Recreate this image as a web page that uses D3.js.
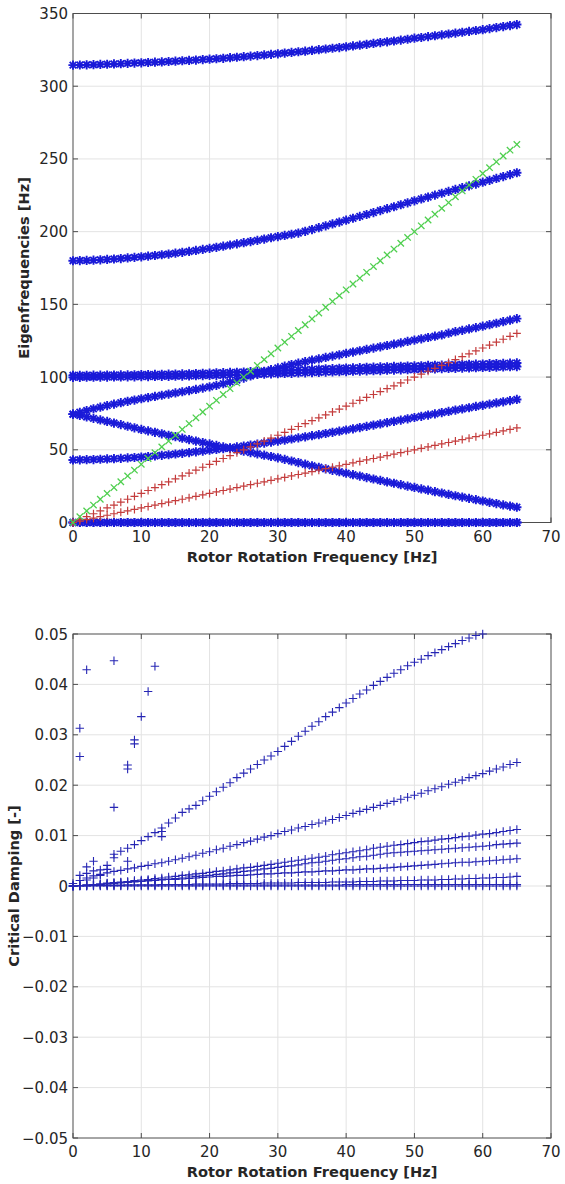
<!DOCTYPE html>
<html>
<head>
<meta charset="utf-8">
<script src="https://cdn.jsdelivr.net/npm/d3@7"></script>
<style>
  body { margin: 0; background: #fff; }
  svg { display: block; }
  .tick-label { font-family: 'DejaVu Sans', sans-serif; font-size: 15px; fill: #262626; }
  .axis-title { font-family: 'DejaVu Sans', sans-serif; font-size: 14.6px; font-weight: bold; fill: #262626; }
</style>
</head>
<body>
<svg id="chart" width="565" height="1184"></svg>
<script>
// rotor speed samples, 1 Hz steps
const rotorHz = d3.range(0, 66);
const hzTicks = [0, 10, 20, 30, 40, 50, 60, 70];
const freqTicks = [0, 50, 100, 150, 200, 250, 300, 350];
const dampTicks = [-0.05, -0.04, -0.03, -0.02, -0.01, 0, 0.01, 0.02, 0.03, 0.04, 0.05];

// eigenfrequencies [Hz]
const eigenRigid = [
  0, 0, 0, 0, 0, 0, 0, 0, 0, 0, 0, 0, 0, 0, 0, 0, 0, 0, 0, 0, 0, 0,
  0, 0, 0, 0, 0, 0, 0, 0, 0, 0, 0, 0, 0, 0, 0, 0, 0, 0, 0, 0, 0, 0,
  0, 0, 0, 0, 0, 0, 0, 0, 0, 0, 0, 0, 0, 0, 0, 0, 0, 0, 0, 0, 0, 0,
];
const eigenB = [
  43.0, 43.1, 43.2, 43.3, 43.5, 43.7, 43.9, 44.1, 44.4, 44.7,
  45.0, 45.4, 45.8, 46.2, 46.6, 47.1, 47.6, 48.1, 48.6, 49.1,
  49.7, 50.2, 50.8, 51.4, 52.0, 52.6, 53.3, 53.9, 54.6, 55.3,
  56.0, 56.7, 57.4, 58.2, 58.9, 59.7, 60.4, 61.2, 62.0, 62.8,
  63.6, 64.4, 65.3, 66.1, 67.0, 67.8, 68.7, 69.6, 70.4, 71.3,
  72.2, 73.0, 73.9, 74.7, 75.6, 76.4, 77.3, 78.1, 78.9, 79.8,
  80.6, 81.4, 82.2, 83.0, 83.8, 84.6,
];
const eigenC = [
  74.5, 73.6, 72.6, 71.6, 70.5, 69.5, 68.4, 67.3, 66.2, 65.1,
  64.0, 63.0, 62.0, 61.0, 60.0, 59.0, 58.0, 57.0, 56.0, 55.0,
  54.0, 53.0, 52.0, 51.0, 50.0, 49.0, 48.1, 47.2, 46.3, 45.4,
  44.5, 43.4, 42.3, 41.2, 40.1, 39.0, 38.0, 36.9, 35.9, 34.9,
  33.9, 32.9, 31.9, 30.9, 29.9, 28.9, 27.9, 27.0, 26.0, 25.0,
  24.1, 23.1, 22.2, 21.2, 20.3, 19.3, 18.4, 17.5, 16.6, 15.7,
  14.8, 13.9, 13.0, 12.1, 11.3, 10.5,
];
const eigenD = [
  74.5, 75.8, 77.0, 78.2, 79.3, 80.4, 81.4, 82.4, 83.3, 84.2,
  85.1, 85.9, 86.7, 87.5, 88.3, 89.1, 89.9, 90.7, 91.5, 92.4,
  93.3, 94.3, 95.4, 96.6, 97.9, 99.3, 100.8, 102.3, 103.8, 105.1,
  106.3, 107.5, 108.6, 109.6, 110.6, 111.6, 112.5, 113.5, 114.4, 115.3,
  116.3, 117.2, 118.1, 119.0, 119.9, 120.8, 121.7, 122.6, 123.5, 124.5,
  125.4, 126.3, 127.2, 128.1, 129.0, 130.2, 131.2, 132.1, 133.1, 134.0,
  135.0, 136.0, 137.0, 138.1, 139.1, 140.2,
];
const eigenE = [
  99.8, 99.8, 99.9, 99.9, 100.0, 100.0, 100.1, 100.1, 100.2, 100.2,
  100.3, 100.3, 100.4, 100.5, 100.5, 100.6, 100.7, 100.8, 100.9, 101.0,
  101.1, 101.2, 101.3, 101.4, 101.5, 101.6, 101.7, 101.9, 102.0, 102.2,
  102.3, 102.5, 102.6, 102.8, 102.9, 103.1, 103.2, 103.4, 103.5, 103.7,
  103.8, 104.0, 104.1, 104.3, 104.4, 104.5, 104.7, 104.8, 105.0, 105.1,
  105.2, 105.4, 105.5, 105.6, 105.8, 105.9, 106.0, 106.2, 106.3, 106.4,
  106.6, 106.7, 106.8, 107.0, 107.1, 107.2,
];
const eigenF = [
  101.2, 101.2, 101.2, 101.3, 101.3, 101.4, 101.4, 101.5, 101.5, 101.6,
  101.7, 101.7, 101.8, 101.9, 102.0, 102.1, 102.2, 102.3, 102.4, 102.6,
  102.7, 102.9, 103.0, 103.2, 103.3, 103.5, 103.7, 103.8, 104.0, 104.2,
  104.4, 104.6, 104.8, 104.9, 105.1, 105.3, 105.5, 105.7, 105.8, 106.0,
  106.2, 106.3, 106.5, 106.7, 106.8, 107.0, 107.1, 107.3, 107.4, 107.6,
  107.7, 107.8, 108.0, 108.1, 108.2, 108.4, 108.5, 108.6, 108.8, 108.9,
  109.0, 109.2, 109.3, 109.4, 109.6, 109.7,
];
const eigenA = [
  180.0, 180.1, 180.2, 180.4, 180.6, 180.9, 181.2, 181.5, 181.9, 182.3,
  182.7, 183.1, 183.6, 184.1, 184.6, 185.2, 185.8, 186.4, 187.1, 187.8,
  188.5, 189.2, 190.0, 190.8, 191.6, 192.4, 193.2, 194.0, 194.9, 195.8,
  196.6, 197.4, 198.2, 199.0, 200.2, 201.4, 202.7, 204.0, 205.3, 206.6,
  207.9, 209.2, 210.5, 211.8, 213.1, 214.5, 215.8, 217.1, 218.5, 219.8,
  221.2, 222.5, 223.8, 225.1, 226.4, 227.7, 229.0, 230.2, 231.5, 232.7,
  234.0, 235.3, 236.6, 237.9, 239.2, 240.5,
];
const eigenTop = [
  314.5, 314.6, 314.7, 314.8, 315.0, 315.1, 315.3, 315.5, 315.7, 315.9,
  316.1, 316.3, 316.5, 316.7, 317.0, 317.2, 317.5, 317.7, 318.0, 318.3,
  318.6, 318.9, 319.2, 319.6, 319.9, 320.3, 320.7, 321.1, 321.5, 321.9,
  322.3, 322.8, 323.2, 323.7, 324.1, 324.6, 325.1, 325.6, 326.1, 326.6,
  327.1, 327.7, 328.2, 328.8, 329.4, 330.0, 330.5, 331.1, 331.7, 332.3,
  333.0, 333.5, 334.1, 334.7, 335.3, 335.9, 336.5, 337.1, 337.7, 338.3,
  338.9, 339.6, 340.3, 341.0, 341.7, 342.4,
];

// excitation orders (1x, 2x, 4x rotor speed)
const order1 = [
  0, 1, 2, 3, 4, 5, 6, 7, 8, 9, 10, 11, 12, 13, 14, 15, 16, 17, 18, 19, 20, 21,
  22, 23, 24, 25, 26, 27, 28, 29, 30, 31, 32, 33, 34, 35, 36, 37, 38, 39, 40, 41, 42, 43,
  44, 45, 46, 47, 48, 49, 50, 51, 52, 53, 54, 55, 56, 57, 58, 59, 60, 61, 62, 63, 64, 65,
];
const order2 = [
  0, 2, 4, 6, 8, 10, 12, 14, 16, 18, 20, 22, 24, 26, 28, 30, 32, 34, 36, 38, 40, 42,
  44, 46, 48, 50, 52, 54, 56, 58, 60, 62, 64, 66, 68, 70, 72, 74, 76, 78, 80, 82, 84, 86,
  88, 90, 92, 94, 96, 98, 100, 102, 104, 106, 108, 110, 112, 114, 116, 118, 120, 122, 124, 126, 128, 130,
];
const order4 = [
  0, 4, 8, 12, 16, 20, 24, 28, 32, 36, 40, 44, 48, 52, 56, 60, 64, 68, 72, 76, 80, 84,
  88, 92, 96, 100, 104, 108, 112, 116, 120, 124, 128, 132, 136, 140, 144, 148, 152, 156, 160, 164, 168, 172,
  176, 180, 184, 188, 192, 196, 200, 204, 208, 212, 216, 220, 224, 228, 232, 236, 240, 244, 248, 252, 256, 260,
];

// critical damping [-]
const dampA = [
  0.0000, 0.0021, 0.0038, 0.0049, 0.0032, 0.0041, 0.0063, 0.0069, 0.0075, 0.0082,
  0.0090, 0.0098, 0.0106, 0.0115, 0.0125, 0.0135, 0.0146, 0.0153, 0.0160, 0.0169,
  0.0178, 0.0187, 0.0196, 0.0205, 0.0215, 0.0224, 0.0232, 0.0241, 0.0250, 0.0258,
  0.0267, 0.0277, 0.0287, 0.0297, 0.0307, 0.0317, 0.0326, 0.0336, 0.0345, 0.0354,
  0.0363, 0.0372, 0.0381, 0.0389, 0.0398, 0.0406, 0.0414, 0.0422, 0.0429, 0.0437,
  0.0444, 0.0450, 0.0457, 0.0463, 0.0469, 0.0475, 0.0481, 0.0487, 0.0492, 0.0497,
  0.0500, null, null, null, null, null,
];
const dampB = [
  0.0005, 0.0011, 0.0016, 0.0020, 0.0023, 0.0026, 0.0029, 0.0031, 0.0034, 0.0036,
  0.0039, 0.0041, 0.0044, 0.0046, 0.0049, 0.0052, 0.0055, 0.0058, 0.0061, 0.0065,
  0.0068, 0.0072, 0.0075, 0.0079, 0.0082, 0.0086, 0.0089, 0.0093, 0.0097, 0.0100,
  0.0104, 0.0108, 0.0111, 0.0115, 0.0118, 0.0122, 0.0125, 0.0129, 0.0132, 0.0136,
  0.0140, 0.0144, 0.0148, 0.0152, 0.0156, 0.0160, 0.0164, 0.0168, 0.0172, 0.0176,
  0.0180, 0.0184, 0.0189, 0.0193, 0.0197, 0.0202, 0.0206, 0.0210, 0.0215, 0.0219,
  0.0223, 0.0228, 0.0232, 0.0236, 0.0241, 0.0245,
];
const dampC = [
  0.0000, 0.0001, 0.0002, 0.0003, 0.0004, 0.0006, 0.0007, 0.0008, 0.0009, 0.0011,
  0.0012, 0.0013, 0.0015, 0.0016, 0.0018, 0.0019, 0.0021, 0.0022, 0.0024, 0.0025,
  0.0027, 0.0029, 0.0030, 0.0032, 0.0034, 0.0036, 0.0037, 0.0039, 0.0041, 0.0043,
  0.0045, 0.0047, 0.0049, 0.0051, 0.0053, 0.0055, 0.0057, 0.0059, 0.0062, 0.0064,
  0.0066, 0.0068, 0.0070, 0.0072, 0.0075, 0.0077, 0.0079, 0.0081, 0.0082, 0.0084,
  0.0086, 0.0088, 0.0089, 0.0091, 0.0093, 0.0094, 0.0096, 0.0098, 0.0099, 0.0101,
  0.0103, 0.0104, 0.0106, 0.0108, 0.0110, 0.0112,
];
const dampD = [
  0.0000, 0.0001, 0.0002, 0.0003, 0.0004, 0.0005, 0.0006, 0.0007, 0.0008, 0.0009,
  0.0010, 0.0011, 0.0012, 0.0013, 0.0014, 0.0015, 0.0016, 0.0018, 0.0019, 0.0020,
  0.0021, 0.0023, 0.0024, 0.0026, 0.0027, 0.0029, 0.0030, 0.0032, 0.0034, 0.0035,
  0.0037, 0.0039, 0.0040, 0.0042, 0.0044, 0.0046, 0.0047, 0.0049, 0.0051, 0.0053,
  0.0054, 0.0056, 0.0058, 0.0059, 0.0061, 0.0063, 0.0065, 0.0066, 0.0067, 0.0068,
  0.0069, 0.0070, 0.0071, 0.0072, 0.0073, 0.0074, 0.0075, 0.0076, 0.0077, 0.0078,
  0.0079, 0.0080, 0.0082, 0.0083, 0.0084, 0.0085,
];
const dampE = [
  0.0000, 0.0001, 0.0002, 0.0003, 0.0003, 0.0004, 0.0005, 0.0006, 0.0007, 0.0008,
  0.0009, 0.0010, 0.0011, 0.0012, 0.0013, 0.0013, 0.0014, 0.0015, 0.0016, 0.0017,
  0.0018, 0.0019, 0.0019, 0.0020, 0.0021, 0.0021, 0.0022, 0.0023, 0.0024, 0.0024,
  0.0025, 0.0026, 0.0026, 0.0027, 0.0028, 0.0028, 0.0029, 0.0030, 0.0030, 0.0031,
  0.0032, 0.0032, 0.0033, 0.0034, 0.0034, 0.0035, 0.0036, 0.0037, 0.0038, 0.0039,
  0.0040, 0.0041, 0.0042, 0.0043, 0.0044, 0.0045, 0.0046, 0.0047, 0.0047, 0.0048,
  0.0049, 0.0050, 0.0051, 0.0052, 0.0053, 0.0054,
];
const dampF = [
  0.0000, 0.0000, 0.0000, 0.0001, 0.0001, 0.0001, 0.0001, 0.0001, 0.0002, 0.0002,
  0.0002, 0.0002, 0.0002, 0.0003, 0.0003, 0.0003, 0.0003, 0.0003, 0.0004, 0.0004,
  0.0004, 0.0004, 0.0004, 0.0005, 0.0005, 0.0005, 0.0005, 0.0005, 0.0006, 0.0006,
  0.0006, 0.0006, 0.0006, 0.0007, 0.0007, 0.0007, 0.0007, 0.0007, 0.0008, 0.0008,
  0.0008, 0.0008, 0.0009, 0.0009, 0.0009, 0.0010, 0.0010, 0.0010, 0.0011, 0.0011,
  0.0011, 0.0012, 0.0012, 0.0012, 0.0013, 0.0013, 0.0014, 0.0014, 0.0015, 0.0015,
  0.0016, 0.0016, 0.0017, 0.0017, 0.0018, 0.0019,
];
const dampG = [
  0.0000, 0.0001, 0.0001, 0.0001, 0.0002, 0.0002, 0.0002, 0.0002, 0.0002, 0.0002,
  0.0002, 0.0002, 0.0002, 0.0002, 0.0002, 0.0002, 0.0002, 0.0002, 0.0002, 0.0002,
  0.0002, 0.0002, 0.0002, 0.0002, 0.0002, 0.0002, 0.0002, 0.0002, 0.0002, 0.0002,
  0.0002, 0.0002, 0.0002, 0.0002, 0.0002, 0.0002, 0.0002, 0.0002, 0.0002, 0.0002,
  0.0003, 0.0003, 0.0003, 0.0003, 0.0003, 0.0003, 0.0003, 0.0003, 0.0003, 0.0003,
  0.0003, 0.0003, 0.0003, 0.0003, 0.0003, 0.0003, 0.0003, 0.0003, 0.0003, 0.0003,
  0.0003, 0.0003, 0.0003, 0.0003, 0.0003, 0.0003,
];
const dampH = eigenRigid;
// scattered low-speed points
const strayHz = [1, 1, 2, 6, 6, 8, 8, 9, 9, 10, 11, 12, 2, 2, 3, 3, 4, 5, 6, 8, 13, 13];
const strayDamp = [
  0.0313, 0.0257, 0.0429, 0.0447, 0.0156, 0.0240, 0.0232, 0.0290, 0.0282, 0.0336, 0.0386, 0.0436,
  0.0025, 0.0012, 0.0030, 0.0016, 0.0021, 0.0033, 0.0056, 0.0049, 0.0108, 0.0098,
];

const markerPaths = {
  plus: r => `M${-r},0H${r}M0,${-r}V${r}`,
  cross: r => `M${-r},${-r}L${r},${r}M${-r},${r}L${r},${-r}`,
  star: r => {
    const d = r * 0.72;
    return `M${-r},0H${r}M0,${-r}V${r}M${-d},${-d}L${d},${d}M${-d},${d}L${d},${-d}`;
  },
};

const svg = d3.select('#chart');

const drawFrame = (g, box, xScale, yScale, yTickValues, yFormat, yTitle, yTitleX) => {
  const tickLen = 5;
  const grid = g.append('g').attr('stroke', '#e3e3e3').attr('stroke-width', 1);
  hzTicks.slice(1, -1).forEach((t) => {
    grid.append('line').attr('x1', xScale(t)).attr('x2', xScale(t))
      .attr('y1', box.top).attr('y2', box.bottom);
  });
  yTickValues.slice(1, -1).forEach((t) => {
    grid.append('line').attr('x1', box.left).attr('x2', box.right)
      .attr('y1', yScale(t)).attr('y2', yScale(t));
  });

  const frame = g.append('g').attr('stroke', '#4d4d4d').attr('stroke-width', 1).attr('fill', 'none');
  frame.append('rect')
    .attr('x', box.left).attr('y', box.top)
    .attr('width', box.right - box.left).attr('height', box.bottom - box.top);
  hzTicks.forEach((t) => {
    frame.append('line').attr('x1', xScale(t)).attr('x2', xScale(t))
      .attr('y1', box.bottom).attr('y2', box.bottom - tickLen);
    frame.append('line').attr('x1', xScale(t)).attr('x2', xScale(t))
      .attr('y1', box.top).attr('y2', box.top + tickLen);
  });
  yTickValues.forEach((t) => {
    frame.append('line').attr('x1', box.left).attr('x2', box.left + tickLen)
      .attr('y1', yScale(t)).attr('y2', yScale(t));
    frame.append('line').attr('x1', box.right).attr('x2', box.right - tickLen)
      .attr('y1', yScale(t)).attr('y2', yScale(t));
  });

  g.append('g').selectAll('text')
    .data(hzTicks)
    .join('text')
    .attr('class', 'tick-label')
    .attr('x', d => xScale(d))
    .attr('y', box.bottom + 19)
    .attr('text-anchor', 'middle')
    .text(d => d);

  g.append('g').selectAll('text')
    .data(yTickValues)
    .join('text')
    .attr('class', 'tick-label')
    .attr('x', box.left - 5)
    .attr('y', d => yScale(d) + 5.5)
    .attr('text-anchor', 'end')
    .text(yFormat);

  g.append('text')
    .attr('class', 'axis-title')
    .attr('x', (box.left + box.right) / 2)
    .attr('y', box.bottom + 39)
    .attr('text-anchor', 'middle')
    .text('Rotor Rotation Frequency [Hz]');

  g.append('text')
    .attr('class', 'axis-title')
    .attr('transform', `translate(${yTitleX}, ${(box.top + box.bottom) / 2}) rotate(-90)`)
    .attr('text-anchor', 'middle')
    .text(yTitle);
};

const drawMarkers = (g, xScale, yScale, xs, ys, style) => {
  const points = xs.map((x, i) => ({ x, y: ys[i] }))
    .filter(p => p.y !== null && p.y >= yScale.domain()[0] && p.y <= yScale.domain()[1]);
  g.append('g')
    .attr('fill', 'none')
    .attr('stroke', style.color)
    .attr('stroke-width', style.width)
    .selectAll('path')
    .data(points)
    .join('path')
    .attr('transform', p => `translate(${xScale(p.x)}, ${yScale(p.y)})`)
    .attr('d', markerPaths[style.shape](style.size));
};

// top: Campbell diagram
const topBox = { left: 73, right: 551, top: 13.5, bottom: 522.5 };
const topX = d3.scaleLinear().domain([0, 70]).range([topBox.left, topBox.right]);
const topY = d3.scaleLinear().domain([0, 350]).range([topBox.bottom, topBox.top]);
const topG = svg.append('g');
drawFrame(topG, topBox, topX, topY, freqTicks, d => d, 'Eigenfrequencies [Hz]', 29);

const blueStar = { shape: 'star', size: 4.6, color: '#1a1ad8', width: 1.9 };
[eigenRigid, eigenRigid, eigenB, eigenC, eigenD, eigenE, eigenF, eigenA, eigenTop]
  .forEach(series => drawMarkers(topG, topX, topY, rotorHz, series, blueStar));
[order1, order2].forEach(series => drawMarkers(topG, topX, topY, rotorHz, series,
  { shape: 'plus', size: 4, color: '#c43c3c', width: 1.2 }));
drawMarkers(topG, topX, topY, rotorHz, order4, { shape: 'cross', size: 3.2, color: '#4fcf4f', width: 1.3 });

// bottom: damping
const botBox = { left: 73, right: 551, top: 634, bottom: 1138 };
const botX = d3.scaleLinear().domain([0, 70]).range([botBox.left, botBox.right]);
const botY = d3.scaleLinear().domain([-0.05, 0.05]).range([botBox.bottom, botBox.top]);
const botG = svg.append('g');
drawFrame(botG, botBox, botX, botY, dampTicks, d => (d === 0 ? '0' : d3.format('.2f')(d)), 'Critical Damping [-]', 19);

const bluePlus = { shape: 'plus', size: 4.2, color: '#2626b4', width: 1.1 };
[dampH, dampG, dampF, dampE, dampD, dampC, dampB, dampA]
  .forEach(series => drawMarkers(botG, botX, botY, rotorHz, series, bluePlus));
drawMarkers(botG, botX, botY, strayHz, strayDamp, bluePlus);
</script>
</body>
</html>
